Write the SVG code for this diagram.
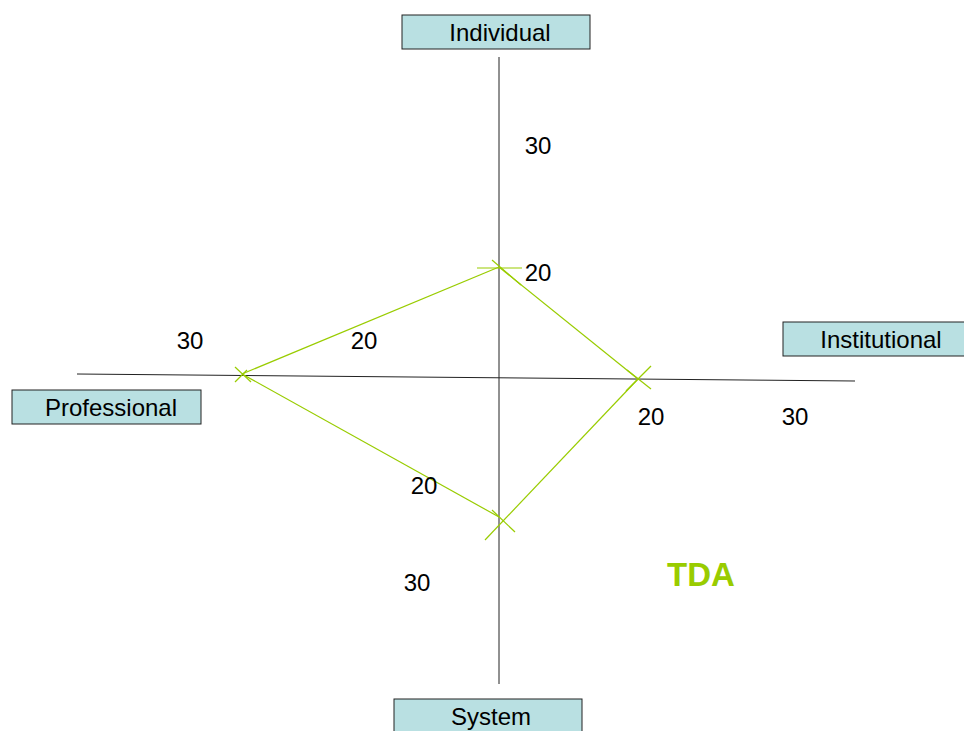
<svg xmlns="http://www.w3.org/2000/svg" width="964" height="731" viewBox="0 0 964 731">
  <style>
    .box { fill: #b9e0e2; stroke: #222; stroke-width: 1; }
    .lbl { font-family: "Liberation Sans", Arial, sans-serif; font-size: 24px; fill: #000; text-anchor: middle; }
    .axis { stroke: #222; stroke-width: 1; fill: none; }
    .green { stroke: #99cc00; stroke-width: 1.2; fill: none; }
    .tda { font-family: "Liberation Sans", Arial, sans-serif; font-size: 33px; font-weight: bold; fill: #99cc00; text-anchor: middle; }
  </style>
  <rect width="964" height="731" fill="#fff"/>

  <g id="connectors">
    <!-- axes -->
    <line class="axis" x1="499" y1="57" x2="499" y2="684"/>
    <line class="axis" x1="77" y1="374" x2="855" y2="381"/>
    <!-- profile polygon -->
    <line class="green" x1="499" y1="267" x2="638" y2="379"/>
    <line class="green" x1="626" y1="391" x2="651" y2="366"/>
    <line class="green" x1="485" y1="540" x2="638" y2="379"/>
    <line class="green" x1="499" y1="267" x2="242" y2="374"/>
    <line class="green" x1="242" y1="374" x2="499" y2="517"/>
    <!-- cross marks on each axis -->
    <line class="green" x1="477" y1="268" x2="522" y2="268"/>
    <line class="green" x1="492" y1="260" x2="521" y2="285"/>
    <line class="green" x1="627" y1="370" x2="651" y2="389"/>
    <line class="green" x1="492" y1="510" x2="515" y2="532"/>
    <line class="green" x1="235" y1="367" x2="251" y2="382"/>
    <line class="green" x1="235" y1="382" x2="247" y2="370"/>
  </g>

  <g id="individual">
    <rect class="box" x="402" y="15" width="188" height="34"/>
    <text class="lbl" x="500" y="41">Individual</text>
  </g>
  <g id="institutional">
    <rect class="box" x="783" y="322" width="184" height="34"/>
    <text class="lbl" x="881" y="348">Institutional</text>
  </g>
  <g id="professional">
    <rect class="box" x="12" y="390" width="189" height="34"/>
    <text class="lbl" x="111" y="416">Professional</text>
  </g>
  <g id="system">
    <rect class="box" x="394" y="699" width="188" height="40"/>
    <text class="lbl" x="491" y="725">System</text>
  </g>

  <g id="scale-labels">
    <text class="lbl" x="538" y="154">30</text>
    <text class="lbl" x="538" y="281">20</text>
    <text class="lbl" x="190" y="349">30</text>
    <text class="lbl" x="364" y="349">20</text>
    <text class="lbl" x="651" y="425">20</text>
    <text class="lbl" x="795" y="425">30</text>
    <text class="lbl" x="424" y="494">20</text>
    <text class="lbl" x="417" y="591">30</text>
  </g>

  <text class="tda" x="701" y="586">TDA</text>
</svg>
